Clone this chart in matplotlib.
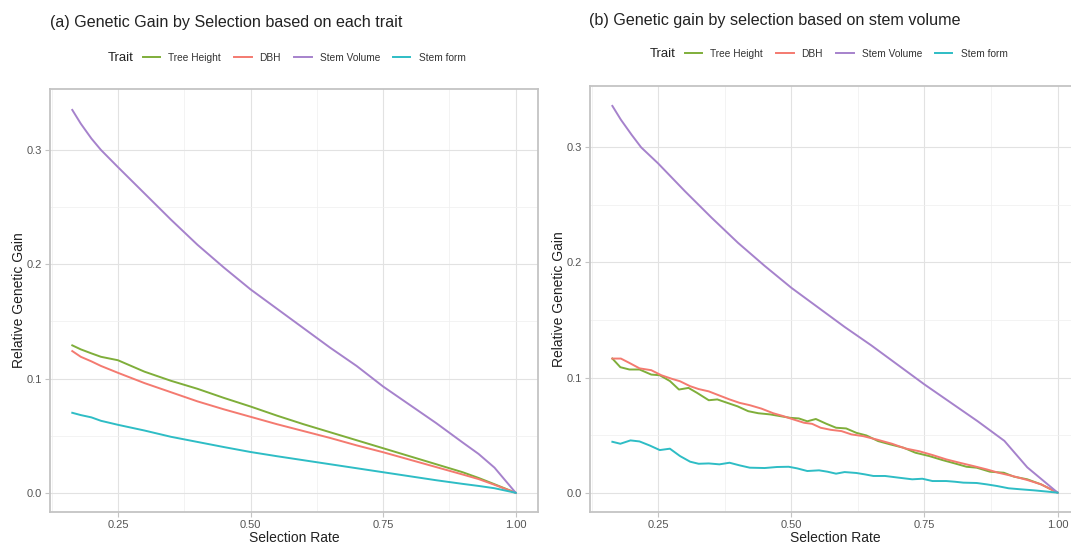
import matplotlib
matplotlib.use("Agg")
import matplotlib.pyplot as plt
from matplotlib.ticker import FixedLocator, FormatStrFormatter
from matplotlib.lines import Line2D

plt.rcParams['font.family'] = ['Liberation Sans', 'DejaVu Sans']

# ---- data ----------------------------------------------------------------
traits = ["Tree Height", "DBH", "Stem Volume", "Stem form"]
trait_colors = ["#7FAE3A", "#F47A70", "#A682CC", "#2EBDC5"]

# (a) selection on each trait itself
rate_a = [0.164, 0.18, 0.20, 0.218, 0.25, 0.30, 0.35, 0.40, 0.45, 0.50, 0.55, 0.60,
          0.65, 0.70, 0.75, 0.80, 0.85, 0.90, 0.93, 0.96, 1.00]
height_a = [0.129, 0.1255, 0.122, 0.119, 0.116, 0.106, 0.098, 0.091, 0.083, 0.0755,
            0.0675, 0.060, 0.053, 0.046, 0.039, 0.032, 0.025, 0.018, 0.013, 0.0075, 0.0]
dbh_a = [0.124, 0.119, 0.115, 0.111, 0.105, 0.096, 0.088, 0.080, 0.073, 0.0665,
         0.060, 0.054, 0.048, 0.0415, 0.0355, 0.029, 0.0225, 0.016, 0.012, 0.007, 0.0]
volume_a = [0.335, 0.323, 0.310, 0.300, 0.285, 0.262, 0.239, 0.217, 0.197, 0.178,
            0.161, 0.144, 0.127, 0.111, 0.093, 0.077, 0.061, 0.044, 0.034, 0.022, 0.0]
form_a = [0.070, 0.068, 0.066, 0.063, 0.0595, 0.0545, 0.049, 0.0445, 0.040, 0.0357,
          0.032, 0.0285, 0.025, 0.0215, 0.018, 0.0145, 0.011, 0.0078, 0.006, 0.004, 0.0]

# (b) correlated response when selecting on stem volume
rate_height_b = [0.164, 0.179, 0.196, 0.215, 0.237, 0.253, 0.272, 0.289, 0.307, 0.323,
                 0.345, 0.361, 0.380, 0.399, 0.419, 0.438, 0.460, 0.479, 0.498, 0.514,
                 0.530, 0.546, 0.565, 0.584, 0.603, 0.622, 0.641, 0.663, 0.686, 0.711,
                 0.733, 0.759, 0.784, 0.807, 0.829, 0.848, 0.873, 0.899, 0.918, 0.943,
                 0.969, 1.000]
height_b = [0.1165, 0.109, 0.107, 0.107, 0.1026, 0.102, 0.097, 0.0896, 0.091, 0.0867,
            0.0803, 0.081, 0.078, 0.075, 0.0708, 0.069, 0.068, 0.0665, 0.065, 0.0645,
            0.062, 0.064, 0.060, 0.0564, 0.0558, 0.052, 0.0497, 0.0448, 0.0419, 0.039,
            0.0347, 0.0318, 0.0283, 0.0254, 0.0225, 0.0217, 0.0182, 0.0173, 0.0139, 0.0116,
            0.0072, 0.0]

rate_dbh_b = [0.164, 0.180, 0.196, 0.215, 0.237, 0.256, 0.275, 0.291, 0.310, 0.326,
              0.345, 0.365, 0.384, 0.403, 0.422, 0.444, 0.466, 0.485, 0.504, 0.524,
              0.539, 0.555, 0.574, 0.594, 0.613, 0.635, 0.660, 0.689, 0.714, 0.740,
              0.765, 0.791, 0.816, 0.842, 0.867, 0.889, 0.915, 0.943, 0.969, 1.000]
dbh_b = [0.1165, 0.1165, 0.1127, 0.108, 0.1064, 0.102, 0.099, 0.0968, 0.0925, 0.090,
         0.088, 0.0844, 0.081, 0.078, 0.076, 0.073, 0.069, 0.0665, 0.0636, 0.0607,
         0.0598, 0.0564, 0.0546, 0.0535, 0.0506, 0.0491, 0.0462, 0.0425, 0.0384, 0.036,
         0.0327, 0.0289, 0.026, 0.0231, 0.0202, 0.0173, 0.0145, 0.011, 0.0072, 0.0]

rate_volume_b = [0.164, 0.18, 0.20, 0.218, 0.25, 0.30, 0.35, 0.40, 0.45, 0.50, 0.55,
                 0.60, 0.65, 0.70, 0.75, 0.80, 0.85, 0.90, 0.943, 1.00]
volume_b = [0.336, 0.324, 0.311, 0.300, 0.286, 0.262, 0.239, 0.217, 0.197, 0.178,
            0.161, 0.144, 0.128, 0.111, 0.094, 0.078, 0.062, 0.045, 0.022, 0.0]

rate_form_b = [0.164, 0.179, 0.198, 0.215, 0.234, 0.253, 0.272, 0.291, 0.310, 0.326,
               0.345, 0.365, 0.384, 0.403, 0.422, 0.450, 0.473, 0.495, 0.511, 0.530,
               0.552, 0.568, 0.584, 0.600, 0.622, 0.638, 0.654, 0.676, 0.702, 0.727,
               0.746, 0.765, 0.791, 0.807, 0.823, 0.848, 0.867, 0.886, 0.908, 0.931,
               0.956, 0.981, 1.000]
form_b = [0.0442, 0.0425, 0.0454, 0.0445, 0.041, 0.037, 0.0382, 0.0318, 0.0269, 0.0251,
          0.0254, 0.0246, 0.026, 0.0237, 0.0217, 0.0214, 0.0223, 0.0225, 0.0211, 0.0188,
          0.0194, 0.0182, 0.0165, 0.0179, 0.0171, 0.0159, 0.0145, 0.0145, 0.013, 0.0116,
          0.0121, 0.0101, 0.0101, 0.0095, 0.0087, 0.0084, 0.0072, 0.0058, 0.0038, 0.0029,
          0.002, 0.0009, 0.0]

x_ticks = [0.25, 0.50, 0.75, 1.00]
y_ticks = [0.0, 0.1, 0.2, 0.3]

# ---- figure --------------------------------------------------------------
W, H = 1071, 543
fig = plt.figure(figsize=(W / 100, H / 100), dpi=100)


def px_box(left, top, right, bottom):
    return [left / W, 1 - bottom / H, (right - left) / W, (bottom - top) / H]


ax_a = fig.add_axes(px_box(50, 89, 538, 512))
ax_b = fig.add_axes(px_box(590, 86, 1080, 512))

series_a = [(rate_a, height_a), (rate_a, dbh_a), (rate_a, volume_a), (rate_a, form_a)]
series_b = [(rate_height_b, height_b), (rate_dbh_b, dbh_b),
            (rate_volume_b, volume_b), (rate_form_b, form_b)]

for ax, series in [(ax_a, series_a), (ax_b, series_b)]:
    for (xs, ys), name, col in zip(series, traits, trait_colors):
        ax.plot(xs, ys, color=col, lw=1.4, label=name, solid_joinstyle='round')

    # theme_light look
    ax.set_xlim(0.122, 1.042)
    ax.set_ylim(-0.0168, 0.3533)
    ax.xaxis.set_major_locator(FixedLocator(x_ticks))
    ax.yaxis.set_major_locator(FixedLocator(y_ticks))
    ax.xaxis.set_minor_locator(FixedLocator([0.125, 0.375, 0.625, 0.875]))
    ax.yaxis.set_minor_locator(FixedLocator([0.05, 0.15, 0.25]))
    ax.xaxis.set_major_formatter(FormatStrFormatter('%.2f'))
    ax.yaxis.set_major_formatter(FormatStrFormatter('%.1f'))
    ax.grid(which='major', color='#E2E2E2', lw=0.8)
    ax.grid(which='minor', color='#EFEFEF', lw=0.5)
    ax.set_axisbelow(True)
    for sp in ax.spines.values():
        sp.set_color('#C4C4C4')
        sp.set_linewidth(1.3)
    ax.tick_params(which='major', length=3.5, width=0.8, color='#C4C4C4',
                   labelsize=8, labelcolor='#555555', pad=2)
    ax.tick_params(which='minor', length=0)
    ax.set_xlabel('Selection Rate', fontsize=10, color='#222222', labelpad=1)
    ax.set_ylabel('Relative Genetic Gain', fontsize=10, color='#222222', labelpad=0.5)

# titles
fig.text(50 / W, 1 - 22 / H, '(a) Genetic Gain by Selection based on each trait',
         fontsize=11.6, color='#222222', va='center', ha='left')
fig.text(589 / W, 1 - 20 / H, '(b) Genetic gain by selection based on stem volume',
         fontsize=11.6, color='#222222', va='center', ha='left')

# legends across the top of each panel
handles = [Line2D([], [], color=c, lw=1.4) for c in trait_colors]
for tx, ty in [(108, 58), (650, 54)]:
    fig.text(tx / W, 1 - ty / H, 'Trait', fontsize=9.5, color='#222222',
             va='center', ha='left')
    fig.legend(handles, traits, loc='center left', ncol=4, frameon=False,
               bbox_to_anchor=((tx + 35) / W, 1 - ty / H), fontsize=7.3,
               handlelength=1.7, handletextpad=0.8, columnspacing=1.3,
               borderpad=0, borderaxespad=0, labelcolor='#333333')

fig.savefig('out.png', dpi=100, facecolor='white')
